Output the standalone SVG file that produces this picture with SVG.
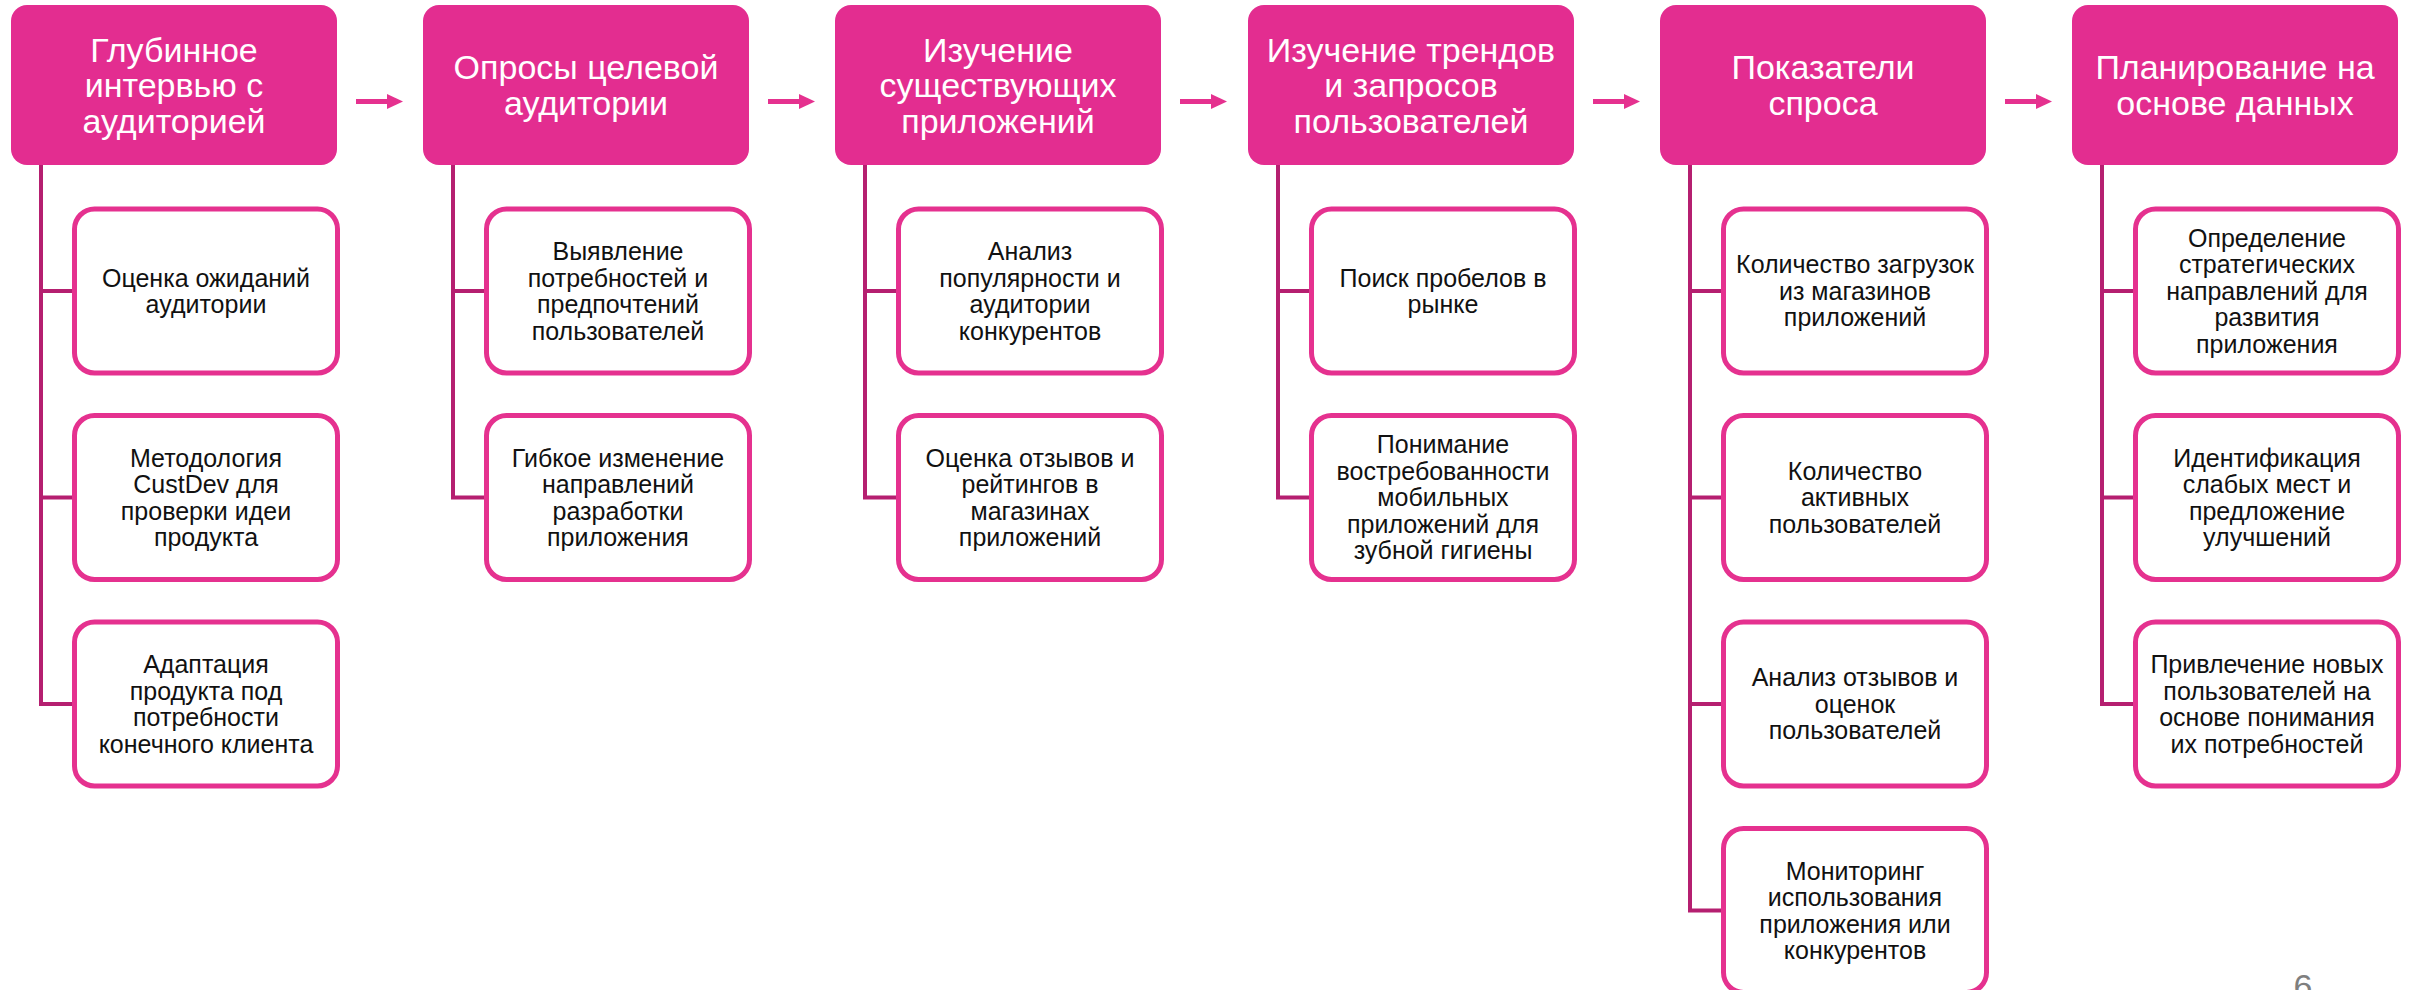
<svg xmlns="http://www.w3.org/2000/svg" width="2412" height="990" viewBox="0 0 2412 990">
<defs>
<style>
.hdr{fill:#E32D90;}
.hdrt{fill:#FFFFFF;font-family:"Liberation Sans",Arial,sans-serif;font-size:34px;text-anchor:middle;}
.box{fill:#FFFFFF;stroke:#E5318F;stroke-width:5;}
.boxt{fill:#111111;font-family:"Liberation Sans",Arial,sans-serif;font-size:25px;text-anchor:middle;}
.conn{fill:none;stroke:#B51F70;stroke-width:4;stroke-linejoin:miter;}
.arr{stroke:#E5318F;stroke-width:5;fill:none;}
.pg{fill:#7F7F7F;font-family:"Liberation Sans",Arial,sans-serif;font-size:34px;text-anchor:middle;}
</style>
<marker id="ah" markerUnits="userSpaceOnUse" markerWidth="16" markerHeight="16" refX="0" refY="8" orient="auto">
<path d="M0,0.5 L16,8 L0,15.5 Z" fill="#E5318F"/>
</marker>
</defs>
<rect width="2412" height="990" fill="#FFFFFF"/>

<g id="connectors">
<path class="conn" d="M41,165 V704 H74.5 M41,291 H74.5 M41,497.5 H74.5"/>
<path class="conn" d="M453,165 V497.5 H486.5 M453,291 H486.5"/>
<path class="conn" d="M865,165 V497.5 H898.5 M865,291 H898.5"/>
<path class="conn" d="M1278,165 V497.5 H1311.5 M1278,291 H1311.5"/>
<path class="conn" d="M1690,165 V910.5 H1723.5 M1690,291 H1723.5 M1690,497.5 H1723.5 M1690,704 H1723.5"/>
<path class="conn" d="M2102,165 V704 H2135.5 M2102,291 H2135.5 M2102,497.5 H2135.5"/>
<line class="arr" x1="356" y1="101.5" x2="387" y2="101.5" marker-end="url(#ah)"/>
<line class="arr" x1="768" y1="101.5" x2="799" y2="101.5" marker-end="url(#ah)"/>
<line class="arr" x1="1180" y1="101.5" x2="1211" y2="101.5" marker-end="url(#ah)"/>
<line class="arr" x1="1593" y1="101.5" x2="1624" y2="101.5" marker-end="url(#ah)"/>
<line class="arr" x1="2005" y1="101.5" x2="2036" y2="101.5" marker-end="url(#ah)"/>
</g>

<!-- Column 1 -->
<g id="h1">
<rect class="hdr" x="11" y="5" width="326" height="160" rx="16"/>
<text class="hdrt"><tspan x="174" y="61.5">Глубинное</tspan><tspan x="174" dy="35.5">интервью с</tspan><tspan x="174" dy="35.5">аудиторией</tspan></text>
</g>
<g id="c1r1">
<rect class="box" x="74.5" y="209" width="263" height="164" rx="20"/>
<text class="boxt"><tspan x="206" y="286.5">Оценка ожиданий</tspan><tspan x="206" dy="26.5">аудитории</tspan></text>
</g>
<g id="c1r2">
<rect class="box" x="74.5" y="415.5" width="263" height="164" rx="20"/>
<text class="boxt"><tspan x="206" y="466.5">Методология</tspan><tspan x="206" dy="26.5">CustDev для</tspan><tspan x="206" dy="26.5">проверки идеи</tspan><tspan x="206" dy="26.5">продукта</tspan></text>
</g>
<g id="c1r3">
<rect class="box" x="74.5" y="622" width="263" height="164" rx="20"/>
<text class="boxt"><tspan x="206" y="673">Адаптация</tspan><tspan x="206" dy="26.5">продукта под</tspan><tspan x="206" dy="26.5">потребности</tspan><tspan x="206" dy="26.5">конечного клиента</tspan></text>
</g>

<!-- Column 2 -->
<g id="h2">
<rect class="hdr" x="423" y="5" width="326" height="160" rx="16"/>
<text class="hdrt"><tspan x="586" y="79.25">Опросы целевой</tspan><tspan x="586" dy="35.5">аудитории</tspan></text>
</g>
<g id="c2r1">
<rect class="box" x="486.5" y="209" width="263" height="164" rx="20"/>
<text class="boxt"><tspan x="618" y="260">Выявление</tspan><tspan x="618" dy="26.5">потребностей и</tspan><tspan x="618" dy="26.5">предпочтений</tspan><tspan x="618" dy="26.5">пользователей</tspan></text>
</g>
<g id="c2r2">
<rect class="box" x="486.5" y="415.5" width="263" height="164" rx="20"/>
<text class="boxt"><tspan x="618" y="466.5">Гибкое изменение</tspan><tspan x="618" dy="26.5">направлений</tspan><tspan x="618" dy="26.5">разработки</tspan><tspan x="618" dy="26.5">приложения</tspan></text>
</g>

<!-- Column 3 -->
<g id="h3">
<rect class="hdr" x="835" y="5" width="326" height="160" rx="16"/>
<text class="hdrt"><tspan x="998" y="61.5">Изучение</tspan><tspan x="998" dy="35.5">существующих</tspan><tspan x="998" dy="35.5">приложений</tspan></text>
</g>
<g id="c3r1">
<rect class="box" x="898.5" y="209" width="263" height="164" rx="20"/>
<text class="boxt"><tspan x="1030" y="260">Анализ</tspan><tspan x="1030" dy="26.5">популярности и</tspan><tspan x="1030" dy="26.5">аудитории</tspan><tspan x="1030" dy="26.5">конкурентов</tspan></text>
</g>
<g id="c3r2">
<rect class="box" x="898.5" y="415.5" width="263" height="164" rx="20"/>
<text class="boxt"><tspan x="1030" y="466.5">Оценка отзывов и</tspan><tspan x="1030" dy="26.5">рейтингов в</tspan><tspan x="1030" dy="26.5">магазинах</tspan><tspan x="1030" dy="26.5">приложений</tspan></text>
</g>

<!-- Column 4 -->
<g id="h4">
<rect class="hdr" x="1248" y="5" width="326" height="160" rx="16"/>
<text class="hdrt"><tspan x="1411" y="61.5">Изучение трендов</tspan><tspan x="1411" dy="35.5">и запросов</tspan><tspan x="1411" dy="35.5">пользователей</tspan></text>
</g>
<g id="c4r1">
<rect class="box" x="1311.5" y="209" width="263" height="164" rx="20"/>
<text class="boxt"><tspan x="1443" y="286.5">Поиск пробелов в</tspan><tspan x="1443" dy="26.5">рынке</tspan></text>
</g>
<g id="c4r2">
<rect class="box" x="1311.5" y="415.5" width="263" height="164" rx="20"/>
<text class="boxt"><tspan x="1443" y="453.25">Понимание</tspan><tspan x="1443" dy="26.5">востребованности</tspan><tspan x="1443" dy="26.5">мобильных</tspan><tspan x="1443" dy="26.5">приложений для</tspan><tspan x="1443" dy="26.5">зубной гигиены</tspan></text>
</g>

<!-- Column 5 -->
<g id="h5">
<rect class="hdr" x="1660" y="5" width="326" height="160" rx="16"/>
<text class="hdrt"><tspan x="1823" y="79.25">Показатели</tspan><tspan x="1823" dy="35.5">спроса</tspan></text>
</g>
<g id="c5r1">
<rect class="box" x="1723.5" y="209" width="263" height="164" rx="20"/>
<text class="boxt"><tspan x="1855" y="273.25">Количество загрузок</tspan><tspan x="1855" dy="26.5">из магазинов</tspan><tspan x="1855" dy="26.5">приложений</tspan></text>
</g>
<g id="c5r2">
<rect class="box" x="1723.5" y="415.5" width="263" height="164" rx="20"/>
<text class="boxt"><tspan x="1855" y="479.75">Количество</tspan><tspan x="1855" dy="26.5">активных</tspan><tspan x="1855" dy="26.5">пользователей</tspan></text>
</g>
<g id="c5r3">
<rect class="box" x="1723.5" y="622" width="263" height="164" rx="20"/>
<text class="boxt"><tspan x="1855" y="686.25">Анализ отзывов и</tspan><tspan x="1855" dy="26.5">оценок</tspan><tspan x="1855" dy="26.5">пользователей</tspan></text>
</g>
<g id="c5r4">
<rect class="box" x="1723.5" y="828.5" width="263" height="164" rx="20"/>
<text class="boxt"><tspan x="1855" y="879.5">Мониторинг</tspan><tspan x="1855" dy="26.5">использования</tspan><tspan x="1855" dy="26.5">приложения или</tspan><tspan x="1855" dy="26.5">конкурентов</tspan></text>
</g>

<!-- Column 6 -->
<g id="h6">
<rect class="hdr" x="2072" y="5" width="326" height="160" rx="16"/>
<text class="hdrt"><tspan x="2235" y="79.25">Планирование на</tspan><tspan x="2235" dy="35.5">основе данных</tspan></text>
</g>
<g id="c6r1">
<rect class="box" x="2135.5" y="209" width="263" height="164" rx="20"/>
<text class="boxt"><tspan x="2267" y="246.75">Определение</tspan><tspan x="2267" dy="26.5">стратегических</tspan><tspan x="2267" dy="26.5">направлений для</tspan><tspan x="2267" dy="26.5">развития</tspan><tspan x="2267" dy="26.5">приложения</tspan></text>
</g>
<g id="c6r2">
<rect class="box" x="2135.5" y="415.5" width="263" height="164" rx="20"/>
<text class="boxt"><tspan x="2267" y="466.5">Идентификация</tspan><tspan x="2267" dy="26.5">слабых мест и</tspan><tspan x="2267" dy="26.5">предложение</tspan><tspan x="2267" dy="26.5">улучшений</tspan></text>
</g>
<g id="c6r3">
<rect class="box" x="2135.5" y="622" width="263" height="164" rx="20"/>
<text class="boxt"><tspan x="2267" y="673">Привлечение новых</tspan><tspan x="2267" dy="26.5">пользователей на</tspan><tspan x="2267" dy="26.5">основе понимания</tspan><tspan x="2267" dy="26.5">их потребностей</tspan></text>
</g>

<text class="pg" x="2303" y="998">6</text>
</svg>
